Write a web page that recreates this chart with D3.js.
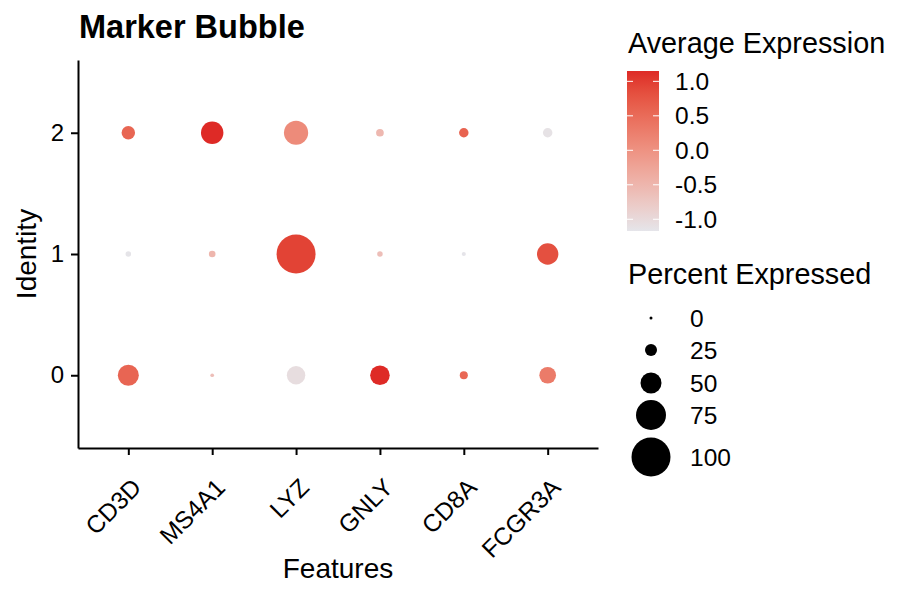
<!DOCTYPE html>
<html>
<head>
<meta charset="utf-8">
<script src="https://cdn.jsdelivr.net/npm/d3@7"></script>
<style>
  body { margin: 0; background: #fff; }
  text { font-family: "Liberation Sans", Arial, Helvetica, sans-serif; fill: #000; }
</style>
</head>
<body>
<div id="chart"></div>
<script>
var features = ["CD3D", "MS4A1", "LYZ", "GNLY", "CD8A", "FCGR3A"]
var identities = ["0", "1", "2"]

// average expression (scaled) per identity, in feature order
var avgExp0 = [0.58, -0.62, -1.05, 1.15, 0.55, 0.3]
var avgExp1 = [-1.15, -0.5, 0.95, -0.62, -1.16, 0.82]
var avgExp2 = [0.57, 1.15, 0.1, -0.53, 0.61, -1.12]

// percent expressed per identity, in feature order
var pct0 = [50, 2, 43, 46, 14, 38]
var pct1 = [7, 10, 100, 7, 3, 51]
var pct2 = [29, 54, 59, 13, 18, 18]

var colorTicks = [-1.0, -0.5, 0.0, 0.5, 1.0]
var sizeBreaks = [0, 25, 50, 75, 100]

var width = 900
var height = 600
var panel = {left: 78, right: 598, top: 60, bottom: 448}

var svg = d3.select("#chart").append("svg")
    .attr("width", width)
    .attr("height", height)

var x = d3.scalePoint().domain(features).range([panel.left, panel.right]).padding(0.6)
var y = d3.scalePoint().domain(identities).range([panel.bottom, panel.top]).padding(0.6)
var r = d3.scaleLinear().domain([0, 100]).range([1.5, 19.5])
var color = d3.scaleLinear().domain([-1.17, 1.15]).range(["#E5E5EA", "#DE2A26"])
    .interpolate(d3.interpolateLab)

var rows = [
    {id: "0", avg: avgExp0, pct: pct0},
    {id: "1", avg: avgExp1, pct: pct1},
    {id: "2", avg: avgExp2, pct: pct2}
]
var points = []
rows.forEach(function(row) {
    features.forEach(function(f, i) {
        points.push({feature: f, id: row.id, avg: row.avg[i], pct: row.pct[i]})
    })
})

// title
svg.append("text")
    .attr("x", 79).attr("y", 38)
    .style("font-size", "32.5px").style("font-weight", "bold")
    .text("Marker Bubble")

// dots
svg.append("g").selectAll("circle")
    .data(points)
    .join("circle")
    .attr("cx", function(d) { return x(d.feature) })
    .attr("cy", function(d) { return y(d.id) })
    .attr("r", function(d) { return r(d.pct) })
    .attr("fill", function(d) { return color(d.avg) })

// axes
var xAxis = svg.append("g")
    .attr("transform", "translate(0," + panel.bottom + ")")
    .call(d3.axisBottom(x).tickSizeInner(7).tickSizeOuter(0))
xAxis.select(".domain").attr("stroke-width", 2)
xAxis.selectAll(".tick line").attr("stroke-width", 2)
xAxis.selectAll(".tick text")
    .attr("x", 14).attr("y", 41).attr("dy", null)
    .attr("text-anchor", "end")
    .attr("transform", "rotate(-45,14,41)")
    .style("font-size", "24.5px")
    .attr("fill", "#000")

var yAxis = svg.append("g")
    .attr("transform", "translate(" + panel.left + ",0)")
    .call(d3.axisLeft(y).tickSizeInner(7).tickSizeOuter(0))
yAxis.select(".domain").attr("stroke-width", 2)
yAxis.selectAll(".tick line").attr("stroke-width", 2)
yAxis.selectAll(".tick text")
    .attr("x", -14)
    .style("font-size", "24px")
    .attr("fill", "#000")

// axis titles
svg.append("text")
    .attr("x", (panel.left + panel.right) / 2).attr("y", 578)
    .attr("text-anchor", "middle")
    .style("font-size", "28px")
    .text("Features")
svg.append("text")
    .attr("transform", "translate(36," + (panel.top + panel.bottom) / 2 + ") rotate(-90)")
    .attr("text-anchor", "middle")
    .style("font-size", "28px")
    .text("Identity")

// colour legend
var cbar = {x: 627, y: 71, w: 32, h: 160}
svg.append("text")
    .attr("x", 628).attr("y", 53)
    .style("font-size", "28.8px")
    .text("Average Expression")

var grad = svg.append("defs").append("linearGradient")
    .attr("id", "grad").attr("x1", 0).attr("y1", 1).attr("x2", 0).attr("y2", 0)
var cy = d3.scaleLinear().domain(color.domain()).range([cbar.y + cbar.h, cbar.y])
d3.range(0, 1.0001, 0.05).forEach(function(t) {
    var v = color.domain()[0] + t * (color.domain()[1] - color.domain()[0])
    grad.append("stop").attr("offset", t).attr("stop-color", color(v))
})
svg.append("rect")
    .attr("x", cbar.x).attr("y", cbar.y)
    .attr("width", cbar.w).attr("height", cbar.h)
    .attr("fill", "url(#grad)")

var ctick = svg.append("g").selectAll("g")
    .data(colorTicks)
    .join("g")
    .attr("transform", function(d) { return "translate(0," + cy(d) + ")" })
ctick.append("line")
    .attr("x1", cbar.x).attr("x2", cbar.x + 6)
    .attr("stroke", "#fff").attr("stroke-width", 1)
ctick.append("line")
    .attr("x1", cbar.x + cbar.w - 6).attr("x2", cbar.x + cbar.w)
    .attr("stroke", "#fff").attr("stroke-width", 1)
ctick.append("text")
    .attr("x", 675).attr("dy", "0.35em")
    .style("font-size", "24.5px")
    .text(function(d) { return d.toFixed(1) })

// size legend
svg.append("text")
    .attr("x", 628).attr("y", 284)
    .style("font-size", "28.8px")
    .text("Percent Expressed")

var sizeY = [318, 350, 383, 415, 457]
var sk = svg.append("g").selectAll("g")
    .data(sizeBreaks)
    .join("g")
    .attr("transform", function(d, i) { return "translate(0," + sizeY[i] + ")" })
sk.append("circle")
    .attr("cx", 651)
    .attr("r", function(d) { return r(d) })
    .attr("fill", "#000")
sk.append("text")
    .attr("x", 690).attr("dy", "0.35em")
    .style("font-size", "24.5px")
    .text(function(d) { return d })
</script>
</body>
</html>
